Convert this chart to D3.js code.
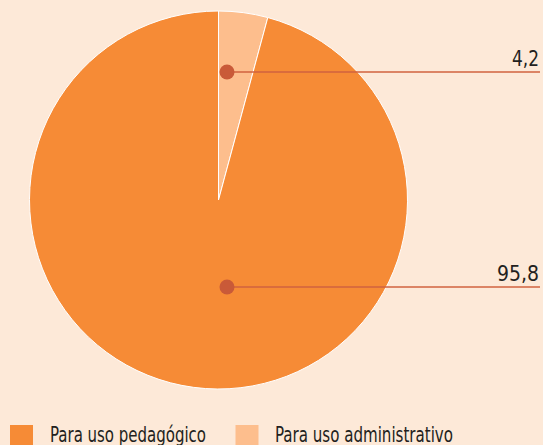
<!DOCTYPE html>
<html>
<head>
<meta charset="utf-8">
<script src="https://cdn.jsdelivr.net/npm/d3@7"></script>
<style>
  body { margin: 0; background: #fde9d8; }
  svg { display: block; }
  text { font-family: "DejaVu Sans", sans-serif; font-stretch: condensed; fill: #231f20; }
</style>
</head>
<body>
<div id="chart"></div>
<script>
// data
const categories = ["Para uso administrativo", "Para uso pedagógico"]
const values = [4.2, 95.8]
const labels = ["4,2", "95,8"]
const colors = ["#fdbe8d", "#f68b36"]

const width = 543
const height = 445
const cx = 218.5, cy = 200, radius = 189

const svg = d3.select("#chart").append("svg")
    .attr("width", width)
    .attr("height", height)

svg.append("rect").attr("width", width).attr("height", height).attr("fill", "#fde9d8")

const pie = d3.pie().sort(null).value(d => d)
const arc = d3.arc().innerRadius(0).outerRadius(radius)

const g = svg.append("g").attr("transform", "translate(" + cx + "," + cy + ")")

g.selectAll("path")
    .data(pie(values))
    .enter()
    .append("path")
    .attr("d", arc)
    .attr("fill", (d, i) => colors[i])
    .attr("stroke", "#fff")
    .attr("stroke-width", 1)

// callouts: dot inside slice, line to right edge, value above line
const callY = [72, 287]
const labelW = [27, 42]
const dotX = 227

callY.forEach((y, i) => {
    svg.append("line")
        .attr("x1", dotX).attr("x2", 540)
        .attr("y1", y).attr("y2", y)
        .attr("stroke", "#d1623f")
        .attr("stroke-width", 1.5)
    svg.append("circle")
        .attr("cx", dotX).attr("cy", y).attr("r", 7.5)
        .attr("fill", "#c95a38")
    svg.append("text")
        .attr("x", 539).attr("y", y - 6)
        .attr("text-anchor", "end")
        .attr("textLength", labelW[i])
        .attr("lengthAdjust", "spacingAndGlyphs")
        .style("font-size", "22px")
        .text(labels[i])
})

// legend
const legend = [
    { name: categories[1], color: colors[1], x: 10, tx: 50, w: 156 },
    { name: categories[0], color: colors[0], x: 235.5, tx: 275, w: 178 }
]
legend.forEach(l => {
    svg.append("rect")
        .attr("x", l.x).attr("y", 425)
        .attr("width", 23).attr("height", 22)
        .attr("fill", l.color)
    svg.append("text")
        .attr("x", l.tx).attr("y", 442)
        .attr("textLength", l.w)
        .attr("lengthAdjust", "spacingAndGlyphs")
        .style("font-size", "20.5px")
        .text(l.name)
})
</script>
</body>
</html>
